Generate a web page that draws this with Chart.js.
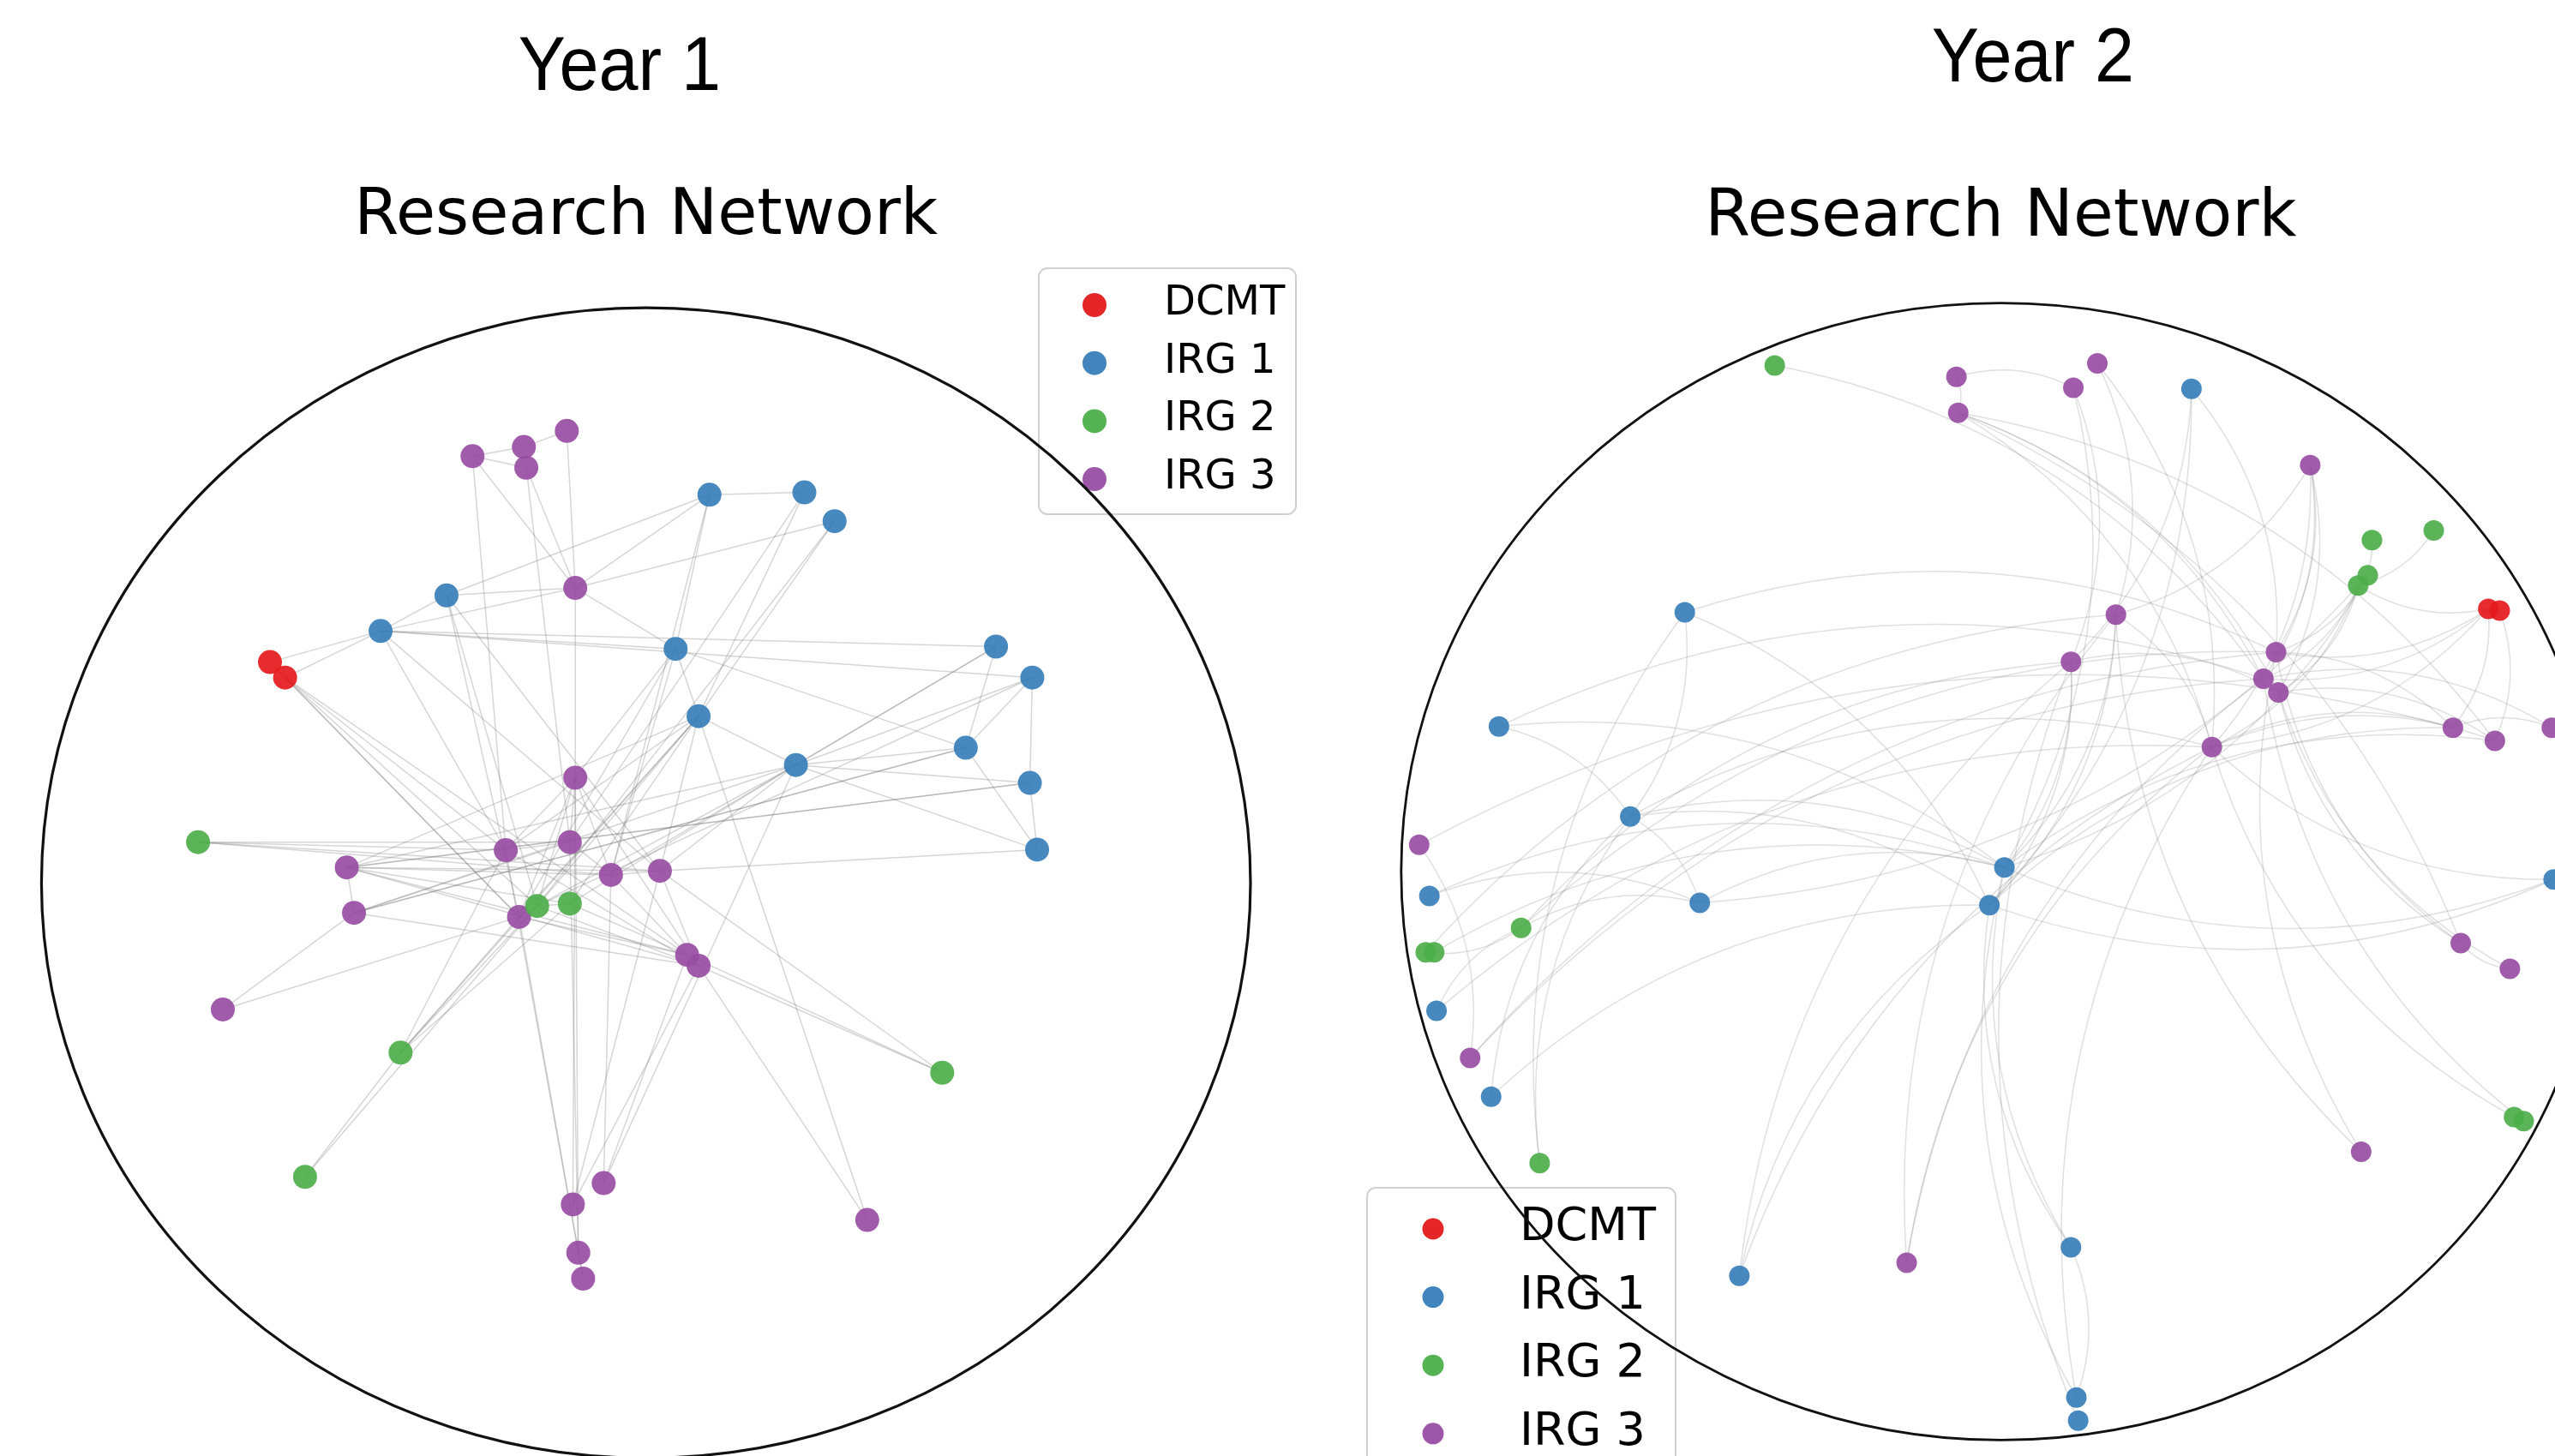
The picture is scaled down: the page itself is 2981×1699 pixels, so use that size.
<!DOCTYPE html>
<html>
<head>
<meta charset="utf-8">
<title>Research Network</title>
<script src="https://cdn.jsdelivr.net/npm/chart.js@4/dist/chart.umd.min.js"></script>
<style>
	html, body { margin: 0; padding: 0; background: #fff; width: 2981px; height: 1699px; overflow: hidden; }
	canvas { position: absolute; top: 0; }
	#year1Chart { left: 0; width: 1560px; height: 1760px; }
	#year2Chart { left: 1560px; width: 1540px; height: 1760px; }
</style>
</head>
<body>
<canvas id="year1Chart" width="1560" height="1760"></canvas>
<canvas id="year2Chart" width="1540" height="1760"></canvas>
<script>
const groupNames = ['DCMT', 'IRG 1', 'IRG 2', 'IRG 3'];
const groupColors = ['#e41a1c', '#377eb8', '#4daf4a', '#984ea3'];

// Year 1 layout (unit circle coordinates)
const year1X = [-0.622, -0.597,
	-0.439, -0.330, 0.105, 0.262, 0.312, 0.049, 0.087, 0.248, 0.579, 0.639, 0.529, 0.635, 0.647,
	-0.741, -0.180, -0.126, -0.406, -0.564, 0.490,
	-0.287, -0.202, -0.198, -0.131, -0.117, -0.117, -0.495, -0.483, -0.232, -0.126, -0.058, 0.023,
	-0.210, 0.068, 0.087, -0.700, -0.070, -0.121, -0.112, -0.104, 0.366];
const year1Y = [0.384, 0.357,
	0.438, 0.500, 0.675, 0.679, 0.629, 0.407, 0.290, 0.205, 0.411, 0.357, 0.235, 0.174, 0.058,
	0.071, -0.040, -0.036, -0.295, -0.511, -0.330,
	0.742, 0.758, 0.722, 0.786, 0.513, 0.183, 0.027, -0.052, 0.057, 0.071, 0.014, 0.021,
	-0.059, -0.125, -0.144, -0.220, -0.522, -0.559, -0.643, -0.688, -0.586];
const year1Group = [0, 0,
	1, 1, 1, 1, 1, 1, 1, 1, 1, 1, 1, 1, 1,
	2, 2, 2, 2, 2, 2,
	3, 3, 3, 3, 3, 3, 3, 3, 3, 3, 3, 3, 3, 3, 3, 3, 3, 3, 3, 3, 3];
const year1Edges = [
	[21, 22], [21, 23], [22, 24], [21, 25], [21, 29], [23, 25], [23, 30], [24, 25], [25, 26], [25, 3],
	[25, 2], [25, 4], [25, 7], [2, 3], [0, 2], [1, 2], [2, 7], [2, 11], [2, 32], [1, 29],
	[1, 33], [1, 16], [1, 34], [3, 33], [3, 16], [2, 29], [15, 29], [15, 31], [15, 32], [15, 30],
	[27, 28], [27, 31], [27, 32], [27, 34], [27, 35], [27, 9], [27, 13], [27, 17], [28, 36], [28, 30],
	[28, 35], [28, 12], [36, 33], [18, 33], [18, 16], [18, 17], [18, 29], [18, 8], [19, 18], [19, 16],
	[38, 26], [39, 30], [37, 34], [40, 29], [37, 31], [38, 35], [40, 33], [39, 26], [37, 9], [38, 32],
	[41, 35], [41, 8], [20, 35], [20, 34], [20, 32], [16, 17], [29, 30], [30, 31], [31, 32], [33, 16],
	[33, 34], [29, 35], [31, 34], [32, 35], [16, 35], [17, 34], [26, 29], [26, 30], [26, 31], [26, 33],
	[26, 16], [26, 35], [8, 29], [8, 16], [8, 33], [8, 27], [8, 32], [8, 17], [8, 7], [8, 9],
	[9, 32], [9, 31], [9, 28], [9, 12], [9, 13], [9, 10], [9, 17], [9, 16], [7, 12], [7, 31],
	[7, 33], [7, 26], [4, 5], [4, 7], [4, 3], [4, 31], [5, 8], [5, 30], [6, 25], [6, 8],
	[6, 16], [10, 12], [11, 12], [11, 13], [12, 14], [13, 14], [10, 9], [11, 9], [12, 28], [13, 27],
	[14, 32], [14, 9], [10, 2], [11, 16], [3, 32], [0, 33]
];

// Year 2 layout (unit circle coordinates)
const year2X = [0.813, 0.832,
	0.318, -0.527, -0.837, -0.618, -0.953, -0.502, -0.941, -0.850, -0.436, 0.006, -0.019, 0.922, 0.117, 0.126, 0.129,
	-0.377, 0.619, 0.722, 0.612, 0.596, -0.800, -0.959, -0.945, -0.769, 0.856, 0.872,
	-0.074, -0.071, 0.121, 0.161, 0.516, 0.192, 0.117, 0.459, 0.438, 0.463, 0.352, 0.754, 0.824, 0.919,
	-0.970, -0.885, -0.157, 0.767, 0.849, 0.601];
const year2Y = [0.462, 0.459,
	0.849, 0.456, 0.255, 0.097, -0.043, -0.055, -0.245, -0.396, -0.711, 0.007, -0.059, -0.014, -0.661, -0.925, -0.966,
	0.890, 0.583, 0.600, 0.521, 0.503, -0.099, -0.142, -0.142, -0.513, -0.432, -0.439,
	0.870, 0.807, 0.851, 0.894, 0.715, 0.452, 0.369, 0.386, 0.339, 0.315, 0.219, 0.253, 0.230, 0.253,
	0.047, -0.328, -0.688, -0.126, -0.171, -0.493];
const year2Group = [0, 0,
	1, 1, 1, 1, 1, 1, 1, 1, 1, 1, 1, 1, 1, 1, 1,
	2, 2, 2, 2, 2, 2, 2, 2, 2, 2, 2,
	3, 3, 3, 3, 3, 3, 3, 3, 3, 3, 3, 3, 3, 3, 3, 3, 3, 3, 3, 3];
const year2Edges = [
	[17, 36], [28, 30], [28, 29], [29, 38], [29, 36], [29, 37], [29, 40], [29, 45], [30, 34], [30, 11],
	[31, 33], [31, 38], [2, 34], [2, 35], [2, 12], [32, 35], [32, 36], [32, 37], [32, 33], [32, 38],
	[18, 21], [19, 21], [20, 35], [21, 36], [21, 37], [21, 38], [20, 11], [21, 7], [0, 35], [0, 36],
	[0, 39], [0, 21], [1, 40], [0, 38], [33, 11], [33, 12], [33, 38], [34, 11], [34, 12], [34, 37],
	[35, 39], [37, 40], [36, 41], [38, 39], [38, 40], [39, 41], [7, 11], [5, 7], [4, 5], [4, 36],
	[3, 35], [3, 12], [3, 5], [5, 12], [5, 11], [5, 38], [4, 11], [6, 7], [6, 11], [42, 43],
	[42, 39], [22, 23], [22, 7], [22, 35], [22, 34], [8, 22], [8, 38], [43, 35], [43, 36], [9, 5],
	[9, 12], [25, 5], [25, 3], [10, 12], [10, 38], [44, 38], [44, 36], [14, 15], [14, 11], [14, 12],
	[16, 34], [15, 11], [45, 35], [45, 37], [46, 45], [46, 37], [26, 38], [27, 36], [47, 35], [47, 33],
	[13, 11], [13, 12], [13, 38], [15, 38], [23, 33], [24, 11], [10, 34], [44, 33], [12, 39], [11, 40]
];

function withAlpha(hex, alpha) {
	const n = parseInt(hex.slice(1), 16);
	return `rgba(${(n >> 16) & 255}, ${(n >> 8) & 255}, ${n & 255}, ${alpha})`;
}

// edges are drawn under the nodes, straight or as arc3-style curves
const edgePlugin = {
	id: 'networkEdges',
	beforeDatasetsDraw(chart, args, opts) {
		const { ctx, scales: { x, y } } = chart;
		ctx.save();
		ctx.strokeStyle = opts.color;
		ctx.lineWidth = opts.width;
		opts.edges.forEach(([a, b]) => {
			const x1 = x.getPixelForValue(opts.xs[a]);
			const y1 = y.getPixelForValue(opts.ys[a]);
			const x2 = x.getPixelForValue(opts.xs[b]);
			const y2 = y.getPixelForValue(opts.ys[b]);
			ctx.beginPath();
			ctx.moveTo(x1, y1);
			if (opts.rad) {
				const cx = (x1 + x2) / 2 + opts.rad * (y2 - y1);
				const cy = (y1 + y2) / 2 - opts.rad * (x2 - x1);
				ctx.quadraticCurveTo(cx, cy, x2, y2);
			} else {
				ctx.lineTo(x2, y2);
			}
			ctx.stroke();
		});
		ctx.restore();
	}
};

// matplotlib-like legend box, then the outer ellipse on top of it
const framePlugin = {
	id: 'networkFrame',
	afterDatasetsDraw(chart, args, opts) {
		const { ctx, scales: { x, y } } = chart;
		const lg = opts.legend;
		ctx.save();
		ctx.beginPath();
		ctx.roundRect(lg.x, lg.y, lg.w, lg.h, 10);
		ctx.fillStyle = 'rgba(255, 255, 255, 0.8)';
		ctx.fill();
		ctx.strokeStyle = 'rgba(204, 204, 204, 0.9)';
		ctx.lineWidth = 2;
		ctx.stroke();
		ctx.font = `${lg.font}px "DejaVu Sans"`;
		ctx.textAlign = 'left';
		ctx.textBaseline = 'alphabetic';
		groupNames.forEach((name, i) => {
			ctx.beginPath();
			ctx.arc(lg.x + lg.markerDx, lg.y + lg.markerDy + i * lg.rowGap, lg.radius, 0, Math.PI * 2);
			ctx.fillStyle = withAlpha(groupColors[i], 0.95);
			ctx.fill();
			ctx.fillStyle = '#000';
			ctx.fillText(name, lg.x + lg.textDx, lg.y + lg.textDy + i * lg.rowGap);
		});

		const cx = x.getPixelForValue(0);
		const cy = y.getPixelForValue(0);
		const rx = x.getPixelForValue(1) - cx;
		const ry = cy - y.getPixelForValue(1);
		ctx.beginPath();
		ctx.ellipse(cx, cy, rx, ry, 0, 0, Math.PI * 2);
		ctx.strokeStyle = '#111';
		ctx.lineWidth = opts.ringWidth;
		ctx.stroke();
		ctx.restore();
	}
};

const textPlugin = {
	id: 'panelText',
	afterDraw(chart, args, opts) {
		const { ctx, chartArea } = chart;
		ctx.save();
		ctx.fillStyle = '#000';
		ctx.textAlign = 'center';
		ctx.textBaseline = 'alphabetic';
		ctx.font = `${opts.titleSize}px "DejaVu Sans"`;
		ctx.fillText('Research Network', (chartArea.left + chartArea.right) / 2, opts.titleBaseline);
		ctx.translate(opts.yearX, opts.yearBaseline);
		ctx.scale(0.93, 1);
		ctx.font = `${opts.yearSize}px "Liberation Sans", Arial, sans-serif`;
		ctx.fillText(opts.year, 0, 0);
		ctx.restore();
	}
};

function buildDatasets(xs, ys, groups, radius) {
	return groupNames.map((name, g) => ({
		label: name,
		data: xs.map((v, i) => ({ x: v, y: ys[i], g: groups[i] })).filter((p) => p.g === g),
		backgroundColor: withAlpha(groupColors[g], 0.92),
		borderWidth: 0,
		pointRadius: radius,
		pointHoverRadius: radius
	}));
}

function makeNetworkChart(canvasId, xs, ys, groups, edges, cfg) {
	return new Chart(document.getElementById(canvasId), {
		type: 'scatter',
		data: { datasets: buildDatasets(xs, ys, groups, cfg.nodeRadius) },
		options: {
			responsive: false,
			animation: false,
			devicePixelRatio: 1,
			events: [],
			layout: { padding: cfg.padding },
			scales: {
				x: { type: 'linear', min: -1, max: 1, display: false },
				y: { type: 'linear', min: -1, max: 1, display: false }
			},
			plugins: {
				legend: { display: false },
				tooltip: { enabled: false },
				networkEdges: { xs, ys, edges, rad: cfg.rad, color: cfg.edgeColor, width: 1.5 },
				networkFrame: { legend: cfg.legend, ringWidth: cfg.ringWidth },
				panelText: cfg.text
			}
		},
		plugins: [edgePlugin, framePlugin, textPlugin]
	});
}

makeNetworkChart('year1Chart', year1X, year1Y, year1Group, year1Edges, {
	nodeRadius: 14,
	rad: 0,
	edgeColor: 'rgba(120, 120, 120, 0.3)',
	ringWidth: 3.2,
	padding: { left: 48.4, top: 359.2, right: 101, bottom: 58.6 },
	legend: { x: 1212, y: 313, w: 300, h: 287, markerDx: 65, markerDy: 43, textDx: 146, textDy: 54, rowGap: 67.7, radius: 14, font: 48 },
	text: { year: 'Year 1', yearX: 723, yearBaseline: 105, yearSize: 89, titleSize: 75, titleBaseline: 273 }
});

makeNetworkChart('year2Chart', year2X, year2Y, year2Group, year2Edges, {
	nodeRadius: 12,
	rad: 0.2,
	edgeColor: 'rgba(130, 130, 130, 0.25)',
	ringWidth: 2.8,
	padding: { left: 74.8, top: 353.6, right: 66, bottom: 79.6 },
	legend: { x: 35, y: 1386, w: 360, h: 345, markerDx: 77, markerDy: 48, textDx: 178, textDy: 61, rowGap: 79.6, radius: 12.5, font: 54 },
	text: { year: 'Year 2', yearX: 812, yearBaseline: 95, yearSize: 89, titleSize: 76, titleBaseline: 275 }
});
</script>
</body>
</html>
